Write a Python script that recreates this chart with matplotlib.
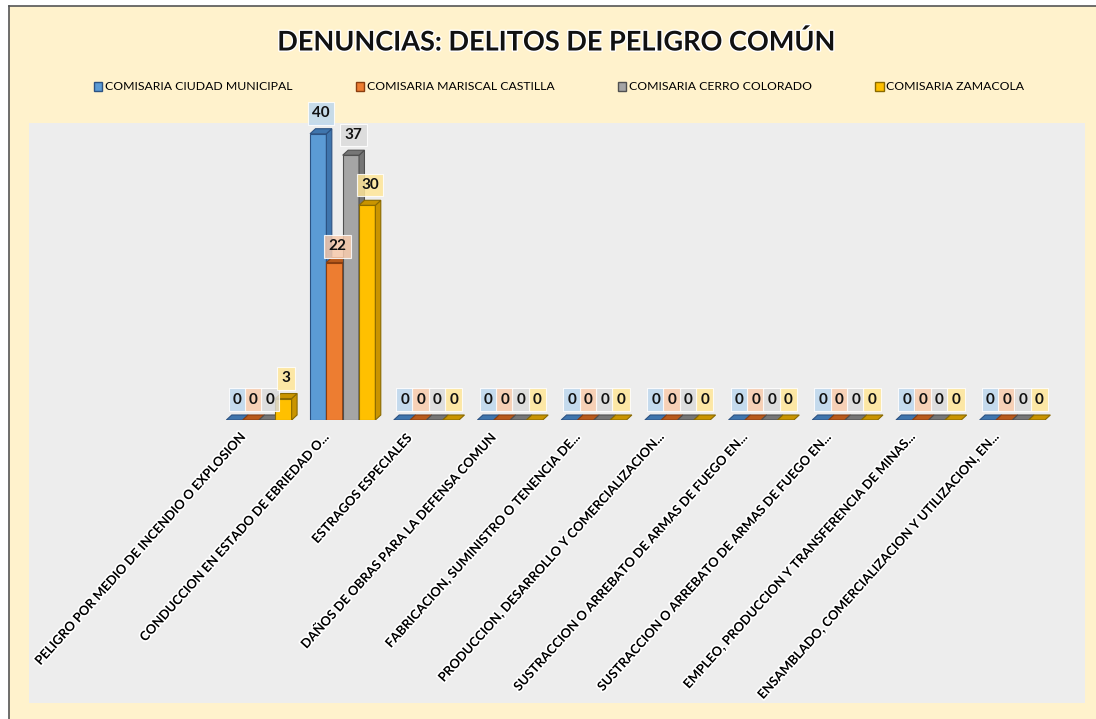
import matplotlib
matplotlib.use("Agg")
from matplotlib import pyplot as plt
from matplotlib.patches import Polygon, Rectangle
from matplotlib.transforms import ScaledTranslation
import matplotlib.patheffects as pe
import numpy as np

plt.rcParams['font.family'] = ['Lato', 'DejaVu Sans']

categories = [
    'PELIGRO POR MEDIO DE INCENDIO O EXPLOSION',
    'CONDUCCION EN ESTADO DE EBRIEDAD O...',
    'ESTRAGOS ESPECIALES',
    'DAÑOS DE OBRAS PARA LA DEFENSA COMUN',
    'FABRICACION, SUMINISTRO O TENENCIA DE...',
    'PRODUCCION, DESARROLLO Y COMERCIALIZACION...',
    'SUSTRACCION O ARREBATO DE ARMAS DE FUEGO EN...',
    'SUSTRACCION O ARREBATO DE ARMAS DE FUEGO EN...',
    'EMPLEO, PRODUCCION Y TRANSFERENCIA DE MINAS...',
    'ENSAMBLADO, COMERCIALIZACION Y UTILIZACION, EN...',
]
series_names = ['COMISARIA CIUDAD MUNICIPAL', 'COMISARIA MARISCAL CASTILLA',
                'COMISARIA CERRO COLORADO', 'COMISARIA ZAMACOLA']
ciudad_municipal = [0, 40, 0, 0, 0, 0, 0, 0, 0, 0]
mariscal_castilla = [0, 22, 0, 0, 0, 0, 0, 0, 0, 0]
cerro_colorado = [0, 37, 0, 0, 0, 0, 0, 0, 0, 0]
zamacola = [3, 30, 0, 0, 0, 0, 0, 0, 0, 0]

# front, side/top, edge, label box
styles = [
    ('#5B9BD5', '#3F75AD', '#2C5282', '#BDD7EE'),
    ('#ED7D31', '#B85A1C', '#8A3E10', '#F8CBAD'),
    ('#A5A5A5', '#767676', '#505050', '#DBDBDB'),
    ('#FFC000', '#C99400', '#8A6A00', '#FFE699'),
]

W, H = 1096, 719
fig = plt.figure(figsize=(W / 100, H / 100), dpi=100)
fig.patch.set_facecolor('white')

# cream chart area with frame
frame = fig.add_axes([9 / W, 0, 1 - 9 / W, 1 - 6 / H])
frame.set_facecolor('#FFF2CC')
frame.set_xticks([])
frame.set_yticks([])
for s in ['right', 'bottom']:
    frame.spines[s].set_visible(False)
for s in ['left', 'top']:
    frame.spines[s].set_color('#555555')
    frame.spines[s].set_linewidth(1.2)

# gray plot area
left, right, top, bottom = 29, 1085, 123, 703
bg = fig.add_axes([left / W, 1 - bottom / H, (right - left) / W, (bottom - top) / H])
bg.set_facecolor('#EDEDED')
bg.set_xticks([])
bg.set_yticks([])
for s in bg.spines.values():
    s.set_visible(False)

base_y = 420
ax = fig.add_axes([left / W, 1 - base_y / H, (right - left) / W, (base_y - top) / H])
ax.patch.set_alpha(0)
for s in ax.spines.values():
    s.set_visible(False)

x = np.arange(len(categories))
step = 83.7
xmin = -(259 - left) / step
xmax = xmin + (right - left) / step
ax.set_xlim(xmin, xmax)
ymax = 41.5
ax.set_ylim(0, ymax)
ax.set_yticks([])

w = 0.195
dx = 0.065
dy = 0.7
all_series = [ciudad_municipal, mariscal_castilla, cerro_colorado, zamacola]
for i, vals in enumerate(all_series):
    front, side, edge, lab = styles[i]
    for j, v in enumerate(vals):
        xc = x[j] + (i - 1.5) * w
        x0, x1 = xc - w / 2, xc + w / 2
        if v > 0:
            ax.add_patch(Rectangle((x0, 0), w, v, facecolor=front, edgecolor=edge, lw=0.8, zorder=3))
            ax.add_patch(Polygon([(x1, 0), (x1 + dx, dy), (x1 + dx, v + dy), (x1, v)],
                                 facecolor=side, edgecolor=edge, lw=0.8, zorder=3))
        ax.add_patch(Polygon([(x0, v), (x1, v), (x1 + dx, v + dy), (x0 + dx, v + dy)],
                             facecolor=side, edgecolor=edge, lw=0.8, zorder=3))
        off = 8 if v == 22 else 11
        ax.annotate(str(v), (xc + dx / 2, v + dy), xytext=(0, off), textcoords='offset points',
                    ha='center', va='center', fontsize=11, fontweight='bold', color='#111111',
                    zorder=5,
                    bbox=dict(boxstyle='square,pad=0.28', facecolor=lab, edgecolor='white',
                              lw=0.8, alpha=0.85))

ax.set_xticks(x)
ax.set_xticklabels(categories, rotation=48, ha='right', rotation_mode='anchor',
                   fontsize=9.3, fontweight='bold')
ax.tick_params(axis='x', length=0, pad=9)
shift = ScaledTranslation(-0.22, 0, fig.dpi_scale_trans)
for t in ax.get_xticklabels():
    t.set_path_effects([pe.withStroke(linewidth=2.5, foreground='white')])
    t.set_transform(t.get_transform() + shift)

fig.text(556 / W, 1 - 42 / H, 'DENUNCIAS: DELITOS DE PELIGRO COMÚN', ha='center', va='center',
         fontsize=19.5, fontweight='bold', color='#111111',
         path_effects=[pe.withStroke(linewidth=2, foreground='white')])

handles = [Rectangle((0, 0), 1, 1, facecolor=s[0], edgecolor=s[2], lw=1) for s in styles]
fig.legend(handles, series_names, loc='center', bbox_to_anchor=(559 / W, 1 - 87 / H), ncol=4,
           frameon=False, fontsize=8.8, handlelength=0.7, handleheight=0.7, handletextpad=0.2,
           columnspacing=5.2)

fig.savefig('out.png', dpi=100, facecolor=fig.get_facecolor())
